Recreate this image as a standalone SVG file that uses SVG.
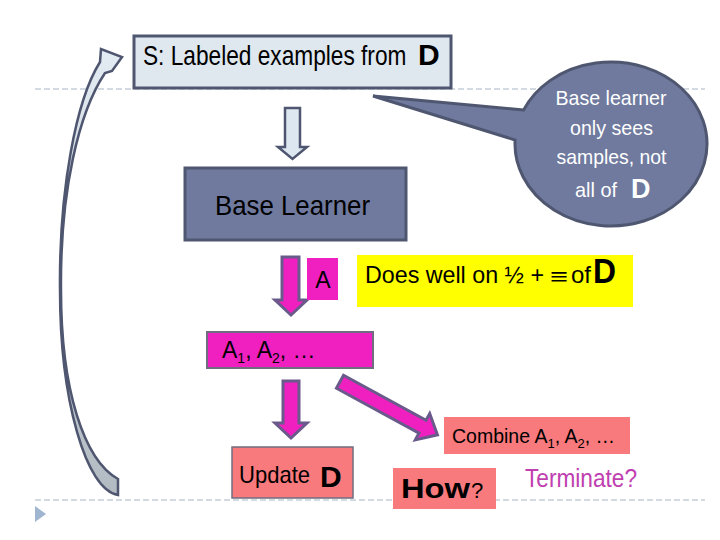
<svg xmlns="http://www.w3.org/2000/svg" width="720" height="540" viewBox="0 0 720 540">
<defs>
<linearGradient id="curveGrad" x1="0" y1="0" x2="0" y2="1">
<stop offset="0" stop-color="#e3ebf3"/>
<stop offset="1" stop-color="#b2bac2"/>
</linearGradient>
<style>
.t{font-family:"Liberation Sans Narrow","Arial Narrow","Liberation Sans",Arial,sans-serif;fill:#000}
.s{font-family:"Liberation Sans",Arial,sans-serif;fill:#000}
.bd{font-family:"Liberation Sans",Arial,sans-serif;font-weight:bold}
.dash{stroke:#a9b5c4;stroke-width:1.2;stroke-dasharray:6 3;fill:none}
.slate{fill:#6f7a9e;stroke:#4f5670;stroke-width:3}
.mag{fill:#f020c0;stroke:#6a5a8c;stroke-width:3;stroke-linejoin:miter}
.pink{fill:#f87a7c}
</style>
</defs>
<rect width="720" height="540" fill="#ffffff"/>
<line class="dash" x1="35" y1="89" x2="705" y2="89"/>
<line class="dash" x1="35" y1="500" x2="705" y2="500"/>
<polygon points="35,506 46,514 35,522" fill="#9fb5d0"/>

<g id="connectors">
<path d="M100,62 L101,49 L122,57 L112,71 L105,73 C79,112 60,190 61,290 C61,390 84,460 118,479 L118,495 C86,490 60,400 60,290 C59,190 76,100 100,62 Z" fill="url(#curveGrad)" stroke="#4f5670" stroke-width="2.5" stroke-linejoin="miter"/>
<path d="M285,108 H300 V147 H307 L292.5,159 L278,147 H285 Z" fill="#dde7f0" stroke="#4f5670" stroke-width="2.5"/>
<path class="mag" d="M282,257 H299 V300 H307 L291,315 L275,300 H282 Z"/>
<path class="mag" d="M283,381 H299 V423 H307 L291,438 L275,423 H283 Z"/>
<path class="mag" transform="translate(340,381.7) rotate(28.6)" d="M0,-7.4 H94 V-15 L111,0 L94,15 V7.4 H0 Z"/>
</g>

<g id="node-s">
<rect x="134" y="36" width="317" height="52" fill="#dfe7ef" stroke="#4f5670" stroke-width="3"/>
<text class="s" transform="translate(143,65) scale(0.81,1)" x="0" y="0" font-size="28">S: Labeled examples from</text>
<text class="bd" x="418" y="65" font-size="30" fill="#000">D</text>
</g>

<g id="node-bubble">
<path class="slate" stroke-width="2.5" d="M523.6,110 L373,96 L515.1,140 A96 82 0 1 0 523.6,110 Z"/>
<text class="t" x="611" y="105" font-size="21" style="fill:#fff" text-anchor="middle" textLength="111" lengthAdjust="spacingAndGlyphs">Base learner</text>
<text class="t" x="611.5" y="135" font-size="21" style="fill:#fff" text-anchor="middle" textLength="83" lengthAdjust="spacingAndGlyphs">only sees</text>
<text class="t" x="611.5" y="164" font-size="21" style="fill:#fff" text-anchor="middle" textLength="110" lengthAdjust="spacingAndGlyphs">samples, not</text>
<text class="t" x="575" y="197" font-size="21" style="fill:#fff" textLength="42" lengthAdjust="spacingAndGlyphs">all of</text>
<text class="bd" x="631" y="198" font-size="27" fill="#fff">D</text>
</g>

<g id="node-base-learner">
<rect class="slate" x="185" y="168" width="221" height="72"/>
<text class="t" x="215" y="215" font-size="28" textLength="155" lengthAdjust="spacingAndGlyphs">Base Learner</text>
</g>

<g id="node-a">
<rect x="307" y="258" width="31" height="42" fill="#f020c0"/>
<text class="s" x="323" y="288" font-size="23" text-anchor="middle">A</text>
</g>

<g id="node-does-well">
<rect x="357" y="255" width="276" height="52" fill="#ffff00"/>
<text class="t" x="365" y="283" font-size="24" textLength="179" lengthAdjust="spacingAndGlyphs">Does well on ½ +</text>
<text class="s" x="550" y="284" font-size="22" fill="#333" textLength="18" lengthAdjust="spacingAndGlyphs">≡</text>
<text class="t" x="571" y="283" font-size="24" textLength="20" lengthAdjust="spacingAndGlyphs">of</text>
<text class="bd" x="593" y="283" font-size="35" fill="#000" textLength="23" lengthAdjust="spacingAndGlyphs">D</text>
</g>

<g id="node-a-list">
<rect x="207" y="332" width="166" height="36" fill="#f020c0" stroke="#6e6e80" stroke-width="2"/>
<text class="s" x="222" y="358" font-size="23">A<tspan font-size="14" dy="5">1</tspan><tspan dy="-5">, A</tspan><tspan font-size="14" dy="5">2</tspan><tspan dy="-5">, …</tspan></text>
</g>

<g id="node-update">
<rect x="232" y="447" width="121" height="51" class="pink" stroke="#6e6e80" stroke-width="1.5"/>
<text class="t" x="239" y="483" font-size="24" textLength="71" lengthAdjust="spacingAndGlyphs">Update</text>
<text class="bd" x="320" y="487" font-size="30" fill="#000">D</text>
</g>

<g id="node-combine">
<rect x="444" y="417" width="186" height="37" class="pink"/>
<text class="s" x="452" y="443" font-size="19.5">Combine A<tspan font-size="13" dy="5">1</tspan><tspan dy="-5">, A</tspan><tspan font-size="13" dy="5">2</tspan><tspan dy="-5">, …</tspan></text>
</g>

<g id="node-how">
<rect x="393" y="468" width="103" height="41" class="pink"/>
<text class="bd" x="401" y="498" font-size="28" fill="#000" textLength="69" lengthAdjust="spacingAndGlyphs">How</text>
<text class="s" x="471" y="498" font-size="22">?</text>
</g>

<g id="node-terminate">
<text class="t" x="525" y="487" font-size="26" style="fill:#c040b0" textLength="112" lengthAdjust="spacingAndGlyphs">Terminate?</text>
</g>
</svg>
